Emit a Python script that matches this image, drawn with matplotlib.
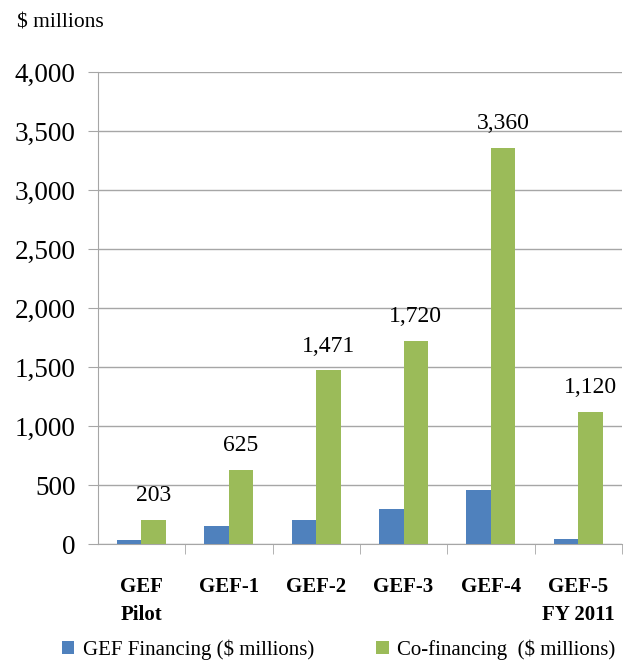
import numpy as np
import matplotlib
matplotlib.use("Agg")
import matplotlib.pyplot as plt

plt.rcParams['font.family'] = ['Liberation Serif', 'DejaVu Serif']

# data
categories = ["GEF\nPilot", "GEF-1", "GEF-2", "GEF-3", "GEF-4", "GEF-5\nFY 2011"]
gef_financing = [30, 155, 200, 300, 460, 45]
co_financing = [203, 625, 1471, 1720, 3360, 1120]

blue = "#4F81BD"
green = "#9BBB59"
grey = "#A6A6A6"

fig = plt.figure(figsize=(6.27, 6.70), dpi=100)
ax = fig.add_axes([0.156, 0.188, 0.836, 0.7045])

x = np.arange(len(categories))
w = 0.28
ax.bar(x - w / 2, gef_financing, w, color=blue, label="GEF Financing ($ millions)", zorder=3)
ax.bar(x + w / 2, co_financing, w, color=green, label="Co-financing  ($ millions)", zorder=3)

for xi, v in zip(x, co_financing):
    ax.annotate(f"{v:,}", (xi + w / 2, v), xytext=(0, 10), textcoords="offset points",
                ha="center", va="bottom", fontsize=17)

ax.set_ylim(0, 4000)
ax.set_xlim(-0.5, len(categories) - 0.5)
ax.set_yticks(np.arange(0, 4001, 500))
ax.set_yticklabels([f"{t:,}" for t in range(0, 4001, 500)], fontsize=19.5)
ax.yaxis.grid(True, color=grey, linewidth=1, zorder=0)
ax.tick_params(axis="y", length=7, color=grey, pad=9)

# category labels centred, ticks on the boundaries
ax.set_xticks(x)
ax.set_xticklabels(categories, fontsize=15, fontweight="bold", linespacing=1.5)
ax.tick_params(axis="x", length=0, pad=24)
ax.set_xticks(np.arange(0.5, len(categories), 1), minor=True)
ax.tick_params(axis="x", which="minor", length=7, color=grey)

for s in ["top", "right"]:
    ax.spines[s].set_visible(False)
ax.spines["left"].set_color(grey)
ax.spines["bottom"].set_color(grey)

fig.text(0.027, 0.966, "$ millions", fontsize=15.5, ha="left", va="center")

fig.legend(loc="center", bbox_to_anchor=(0.54, 0.03), ncol=2, frameon=False,
           fontsize=15, handlelength=0.6, handleheight=0.6, columnspacing=3.0,
           handletextpad=0.4, borderpad=0)

fig.savefig("out.png", dpi=100)
